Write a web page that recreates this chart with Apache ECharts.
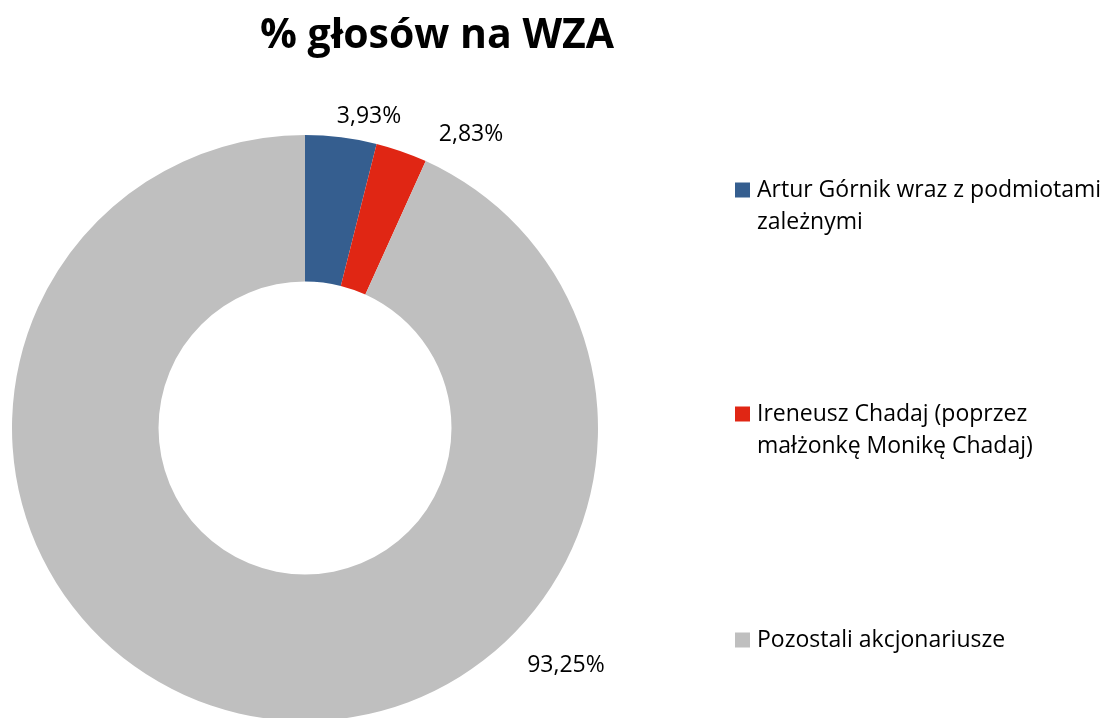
<!DOCTYPE html>
<html>
<head>
<meta charset="utf-8">
<script src="https://cdn.jsdelivr.net/npm/echarts@6/dist/echarts.min.js"></script>
<style>
html,body{margin:0;padding:0;background:#fff;}
#chart{width:1106px;height:718px;}
</style>
</head>
<body>
<div id="chart"></div>
<script>
var titleText = '% głosów na WZA';
var categories = ['Artur Górnik wraz z podmiotami\nzależnymi', 'Ireneusz Chadaj (poprzez\nmałżonkę Monikę Chadaj)', 'Pozostali akcjonariusze'];
var values = [3.93, 2.83, 93.25];
var colors = ['#355E8F', '#E02614', '#BFBFBF'];

var FONT = 'Open Sans';
var chart = echarts.init(document.getElementById('chart'), null, {renderer: 'canvas'});

var data = categories.map(function (c, i) {
  return {name: c, value: values[i], itemStyle: {color: colors[i]}};
});

var labelPos = [[369, 116], [471, 134], [566, 665]];

// square drawn at the top of a taller box so it lines up with the first text line
var TOP_SQUARE = 'path://M0,0L15,0L15,15L0,15Z M0,47L0,47';

function legendFor(i, top, twoLine) {
  return {
    data: [categories[i]],
    left: 735,
    top: top,
    padding: 0,
    orient: 'vertical',
    icon: twoLine ? TOP_SQUARE : 'rect',
    itemWidth: 15,
    itemHeight: twoLine ? 47 : 15,
    itemGap: 0,
    selectedMode: false,
    itemStyle: {borderWidth: 0},
    textStyle: {
      fontFamily: FONT,
      fontSize: 23,
      color: '#000',
      lineHeight: 32,
      padding: [0, 0, 0, 2]
    }
  };
}

chart.setOption({
  animation: false,
  title: {
    text: titleText,
    left: 437,
    textAlign: 'center',
    top: 16,
    padding: 0,
    textStyle: {fontFamily: FONT, fontWeight: 'bold', fontSize: 41, color: '#000'}
  },
  legend: [legendFor(0, 174, true), legendFor(1, 398, true), legendFor(2, 624, false)],
  series: [{
    type: 'pie',
    center: [305, 428],
    radius: [146.5, 293],
    startAngle: 90,
    clockwise: true,
    data: data,
    label: {
      show: true,
      position: 'outside',
      fontFamily: FONT,
      fontSize: 23,
      color: '#000',
      formatter: function (p) { return p.value.toFixed(2).replace('.', ',') + '%'; }
    },
    labelLine: {show: false},
    labelLayout: function (p) {
      return {x: labelPos[p.dataIndex][0], y: labelPos[p.dataIndex][1], align: 'center', verticalAlign: 'middle'};
    },
    emphasis: {disabled: true}
  }]
});
</script>
</body>
</html>
